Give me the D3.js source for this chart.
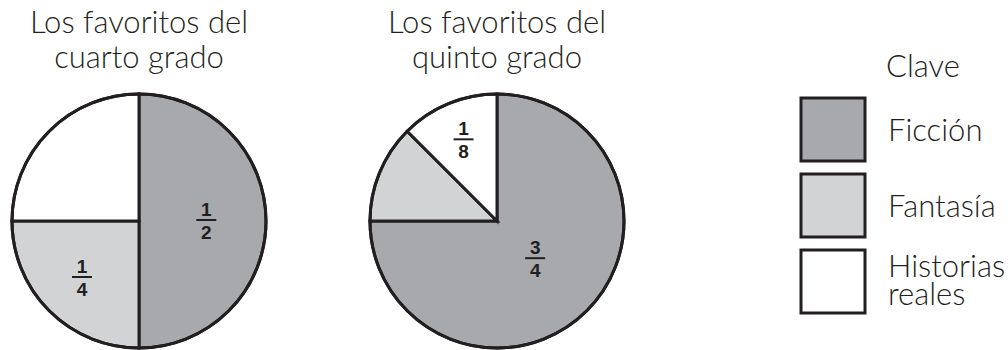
<!DOCTYPE html>
<html>
<head>
<meta charset="utf-8">
<script src="https://cdn.jsdelivr.net/npm/d3@7"></script>
<style>
  body { margin: 0; background: #fff; }
  text { fill: #231f20; }
</style>
</head>
<body>
<div id="chart"></div>
<script>
// categories, shared by both pies and the key
var categories = ["Ficción", "Fantasía", "Historias reales"];
var colors = ["#a7a9ac", "#d1d3d4", "#ffffff"];

// fractions for each grade (numerator / denominator)
var cuartoNum = [1, 1, 1];
var cuartoDen = [2, 4, 4];
var quintoNum = [3, 1, 1];
var quintoDen = [4, 8, 8];

// which slices carry a printed label
var cuartoShow = [true, true, false];
var quintoShow = [true, false, true];

var titles = [
  ["Los favoritos del", "cuarto grado"],
  ["Los favoritos del", "quinto grado"]
];
var keyTitle = "Clave";
var keyLabels = [["Ficción"], ["Fantasía"], ["Historias", "reales"]];

var width = 1008, height = 350;
var ink = "#231f20";
var font = "Lato, 'Open Sans', sans-serif";
var fontSize = "31px";

var svg = d3.select("#chart").append("svg")
    .attr("width", width)
    .attr("height", height);

var color = d3.scaleOrdinal().domain(categories).range(colors);

var radius = 127;
var pie = d3.pie().sort(null).value(function(d) { return d.num / d.den; });
var arc = d3.arc().innerRadius(0).outerRadius(radius);

var pies = [
  { cx: 139, cy: 221, num: cuartoNum, den: cuartoDen, show: cuartoShow, title: titles[0] },
  { cx: 497, cy: 221, num: quintoNum, den: quintoDen, show: quintoShow, title: titles[1] }
];

pies.forEach(function(p) {
  var rows = categories.map(function(c, i) {
    return { cat: c, num: p.num[i], den: p.den[i], show: p.show[i] };
  });

  // title, two lines
  svg.append("g").selectAll("text")
    .data(p.title)
    .enter().append("text")
      .attr("x", p.cx)
      .attr("y", function(d, i) { return 33 + i * 35; })
      .attr("text-anchor", "middle")
      .style("font-family", font)
      .style("font-weight", 300)
      .style("font-size", fontSize)
      .text(function(d) { return d; });

  var g = svg.append("g")
      .attr("transform", "translate(" + p.cx + "," + p.cy + ")");

  var slices = pie(rows);

  g.selectAll("path")
    .data(slices)
    .enter().append("path")
      .attr("d", arc)
      .attr("fill", function(d) { return color(d.data.cat); })
      .attr("stroke", ink)
      .attr("stroke-width", 3)
      .attr("stroke-linejoin", "miter");

  g.append("circle")
      .attr("r", radius)
      .attr("fill", "none")
      .attr("stroke", ink)
      .attr("stroke-width", 3);

  // fraction labels, smaller slices pushed further out
  var lab = g.selectAll("g.frac")
    .data(slices.filter(function(d) { return d.data.show; }))
    .enter().append("g")
      .attr("class", "frac")
      .attr("transform", function(d) {
        var f = d.data.num / d.data.den;
        var lr = radius * (0.74 - 0.42 * f);
        var c = d3.arc().innerRadius(lr).outerRadius(lr).centroid(d);
        return "translate(" + c[0] + "," + c[1] + ")";
      });

  lab.append("text")
      .attr("y", -5)
      .attr("text-anchor", "middle")
      .style("font-family", "'Liberation Sans', Arial, sans-serif")
      .style("font-weight", "bold")
      .style("font-size", "19px")
      .text(function(d) { return d.data.num; });

  lab.append("line")
      .attr("x1", -10).attr("x2", 10)
      .attr("y1", -1).attr("y2", -1)
      .attr("stroke", ink)
      .attr("stroke-width", 2);

  lab.append("text")
      .attr("y", 18)
      .attr("text-anchor", "middle")
      .style("font-family", "'Liberation Sans', Arial, sans-serif")
      .style("font-weight", "bold")
      .style("font-size", "19px")
      .text(function(d) { return d.data.den; });
});

// key
var key = svg.append("g").attr("transform", "translate(801,0)");

key.append("text")
    .attr("x", 85)
    .attr("y", 77)
    .style("font-family", font)
    .style("font-weight", 300)
    .style("font-size", fontSize)
    .text(keyTitle);

var item = key.selectAll("g.item")
  .data(categories)
  .enter().append("g")
    .attr("class", "item")
    .attr("transform", function(d, i) { return "translate(0," + (98 + i * 76) + ")"; });

item.append("rect")
    .attr("width", 64)
    .attr("height", 63)
    .attr("fill", function(d) { return color(d); })
    .attr("stroke", ink)
    .attr("stroke-width", 3);

item.append("text")
    .attr("x", 87)
    .style("font-family", font)
    .style("font-weight", 300)
    .style("font-size", fontSize)
  .selectAll("tspan")
  .data(function(d, i) { return keyLabels[i]; })
  .enter().append("tspan")
    .attr("x", 87)
    .attr("y", function(d, i, nodes) {
      return nodes.length > 1 ? 27 + i * 28 : 43;
    })
    .text(function(d) { return d; });
</script>
</body>
</html>
